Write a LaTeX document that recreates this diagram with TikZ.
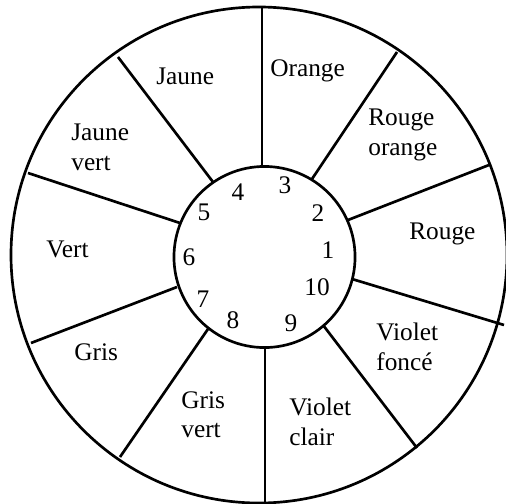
\documentclass[tikz,border=0pt]{standalone}
\usepackage{fontspec}
\setmainfont{Liberation Serif}

\tikzset{every picture/.style={line width=2pt}}
\tikzset{lbl/.style={anchor=north west,inner sep=0.75pt,align=left,font=\fontsize{19}{22}\selectfont}}
\tikzset{num/.style={inner sep=0.75pt,font=\fontsize{19}{22}\selectfont}}

\begin{document}
\begin{tikzpicture}[x=0.75pt,y=0.75pt,yscale=-1,xscale=1]
\useasboundingbox (0,0) rectangle (506,503);

%Shape: Circle (outer)
\draw (259,255) circle [radius=186pt];
%Shape: Circle (inner)
\draw (264.5,257) circle [radius=67.9pt];

%Straight Lines
\draw (262,166) -- (262,7);
%Straight Lines
\draw (312,179) -- (397,52);
%Straight Lines
\draw (348,220) -- (489,165);
%Straight Lines
\draw (352,279) -- (504,325);
%Straight Lines
\draw (323,325) -- (417,448);
%Straight Lines
\draw (265,348) -- (265,503);
%Straight Lines
\draw (208,329) -- (120,457);
%Straight Lines
\draw (177,287) -- (31,343);
%Straight Lines
\draw (180,223) -- (28,173);
%Straight Lines
\draw (213,182) -- (118,57);

% Text Node
\draw (268,57) node [lbl] (orange) {Orange};
% Text Node
\draw (154,66) node [lbl] (jaune) {Jaune};
% Text Node
\draw (366,107) node [lbl] (rougeorange) {Rouge\\orange};
% Text Node
\draw (69,122) node [lbl] (jaunevert) {Jaune\\vert};
% Text Node
\draw (407,221) node [lbl] (rouge) {Rouge};
% Text Node
\draw (44,239) node [lbl] (vert) {Vert};
% Text Node
\draw (72,341) node [lbl] (gris) {Gris};
% Text Node
\draw (374,321) node [lbl] (violetfonce) {Violet\\foncé};
% Text Node
\draw (179,389) node [lbl] (grisvert) {Gris\\vert};
% Text Node
\draw (287,396) node [lbl] (violetclair) {Violet\\clair};

% Number Nodes
\draw (328,250) node [num] (n1) {1};
\draw (318,213) node [num] (n2) {2};
\draw (285,185) node [num] (n3) {3};
\draw (238,192) node [num] (n4) {4};
\draw (204,212) node [num] (n5) {5};
\draw (189,257) node [num] (n6) {6};
\draw (203,299) node [num] (n7) {7};
\draw (233,320) node [num] (n8) {8};
\draw (291,323) node [num] (n9) {9};
\draw (317,287) node [num] (n10) {10};

\end{tikzpicture}
\end{document}
